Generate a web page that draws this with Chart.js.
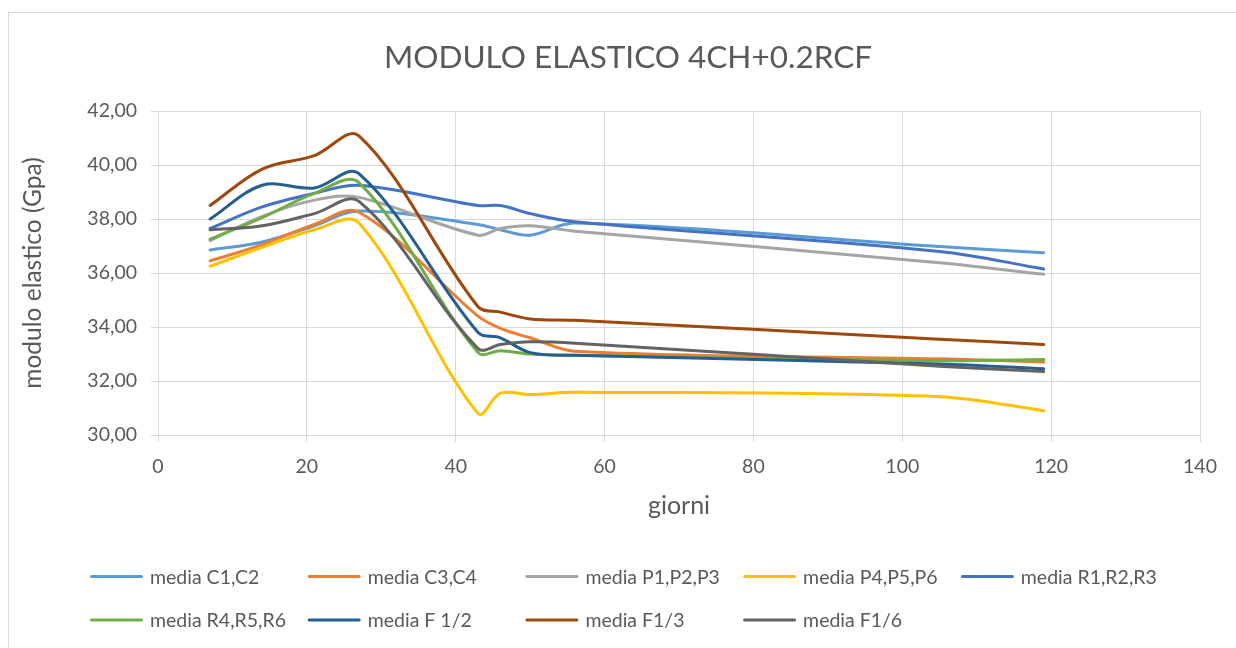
<!DOCTYPE html>
<html>
<head>
<meta charset="utf-8">
<script src="https://cdn.jsdelivr.net/npm/chart.js@4.4.1/dist/chart.umd.min.js"></script>
<style>
  html, body { margin: 0; padding: 0; background: #ffffff; }
  #wrap { position: relative; width: 1236px; height: 648px; }
</style>
</head>
<body>
<div id="wrap"><canvas id="chart" width="1236" height="648"></canvas></div>
<script>
// Curing age (days) at which the elastic modulus was measured
const giorni = [7, 14, 21, 27, 43, 46, 50, 56, 105, 119];

// Mean elastic modulus (GPa) per specimen group
const mediaC1C2   = [36.85, 37.15, 37.75, 38.30, 37.80, 37.60, 37.40, 37.85, 36.98, 36.75];
const mediaC3C4   = [36.45, 37.05, 37.80, 38.25, 34.40, 33.95, 33.60, 33.10, 32.82, 32.70];
const mediaP1P2P3 = [37.20, 38.10, 38.70, 38.80, 37.40, 37.65, 37.75, 37.55, 36.38, 35.95];
const mediaP4P5P6 = [36.25, 36.95, 37.60, 37.85, 30.80, 31.55, 31.50, 31.58, 31.42, 30.90];
const mediaR1R2R3 = [37.65, 38.45, 38.95, 39.25, 38.50, 38.50, 38.20, 37.90, 36.80, 36.15];
const mediaR4R5R6 = [37.25, 38.05, 38.95, 39.35, 33.05, 33.12, 33.00, 32.95, 32.75, 32.80];
const mediaF12    = [38.00, 39.25, 39.15, 39.68, 33.80, 33.60, 33.05, 32.95, 32.63, 32.45];
const mediaF13    = [38.50, 39.85, 40.35, 41.08, 34.75, 34.55, 34.30, 34.25, 33.55, 33.35];
const mediaF16    = [37.60, 37.75, 38.20, 38.65, 33.20, 33.35, 33.45, 33.40, 32.55, 32.35];

const serieNomi = ['media C1,C2', 'media C3,C4', 'media P1,P2,P3', 'media P4,P5,P6',
                   'media R1,R2,R3', 'media R4,R5,R6', 'media F 1/2', 'media F1/3', 'media F1/6'];
const serieValori = [mediaC1C2, mediaC3C4, mediaP1P2P3, mediaP4P5P6,
                     mediaR1R2R3, mediaR4R5R6, mediaF12, mediaF13, mediaF16];
const serieColori = ['#5B9BD5', '#ED7D31', '#A5A5A5', '#FFC000',
                     '#4472C4', '#70AD47', '#255E91', '#9E480E', '#636363'];

// Axis ticks
const xTicks = [0, 20, 40, 60, 80, 100, 120, 140];
const yTicks = [30, 32, 34, 36, 38, 40, 42];

const TITOLO = 'MODULO ELASTICO 4CH+0.2RCF';
const FONT = 'Lato, "Noto Sans", "Liberation Sans", sans-serif';
const TEXT = '#595959';
const GRID = '#D9D9D9';

const datasets = serieNomi.map((nome, s) => ({
  label: nome,
  data: giorni.map((g, i) => ({ x: g, y: serieValori[s][i] })),
  borderColor: serieColori[s],
  backgroundColor: serieColori[s],
  borderWidth: 3,
  pointRadius: 0,
  pointHoverRadius: 0,
  tension: 0.35,
  borderCapStyle: 'round',
  borderJoinStyle: 'round',
  fill: false,
  // later series are painted over earlier ones
  order: serieNomi.length - 1 - s
}));

// Outer frame of the chart and the title, centred on the frame
const framePlugin = {
  id: 'frame',
  beforeDraw(chart) {
    const ctx = chart.ctx;
    ctx.save();
    ctx.fillStyle = '#ffffff';
    ctx.fillRect(0, 0, chart.width, chart.height);
    ctx.strokeStyle = GRID;
    ctx.lineWidth = 1;
    ctx.strokeRect(8.5, 12.5, chart.width + 20, chart.height + 20);
    ctx.font = '31.5px ' + FONT;
    ctx.fillStyle = TEXT;
    ctx.textAlign = 'center';
    ctx.textBaseline = 'middle';
    ctx.fillText(TITOLO, 628, 57.5);
    ctx.restore();
  }
};

// Legend laid out on a fixed grid of columns, two rows
const gridLegendPlugin = {
  id: 'gridLegend',
  afterDraw(chart) {
    const ctx = chart.ctx;
    const cols = 5, colW = 217.7, startX = 90;
    const rowY = [576.5, 620];
    const lineLen = 53;
    ctx.save();
    ctx.font = '19.5px ' + FONT;
    ctx.textBaseline = 'middle';
    ctx.textAlign = 'left';
    chart.data.datasets.forEach((ds, i) => {
      const x = startX + (i % cols) * colW;
      const y = rowY[Math.floor(i / cols)];
      ctx.strokeStyle = ds.borderColor;
      ctx.lineWidth = 3;
      ctx.lineCap = 'round';
      ctx.beginPath();
      ctx.moveTo(x + 1.5, y);
      ctx.lineTo(x + lineLen - 1.5, y);
      ctx.stroke();
      ctx.fillStyle = TEXT;
      ctx.fillText(ds.label, x + lineLen + 7, y + 1);
    });
    ctx.restore();
  }
};

new Chart(document.getElementById('chart'), {
  type: 'line',
  data: { datasets },
  plugins: [framePlugin, gridLegendPlugin],
  options: {
    responsive: false,
    animation: false,
    events: [],
    layout: { padding: { left: 18, right: 36, top: 111, bottom: 0 } },
    plugins: {
      legend: { display: false },
      tooltip: { enabled: false },
      title: { display: false }
    },
    scales: {
      x: {
        type: 'linear',
        min: 0,
        max: 140,
        afterBuildTicks(scale) { scale.ticks = xTicks.map(v => ({ value: v })); },
        afterFit(scale) { scale.height = 213; },
        grid: { color: GRID, lineWidth: 1, tickLength: 7, drawTicks: true },
        border: { color: GRID, width: 1 },
        ticks: {
          color: TEXT,
          font: { family: FONT, size: 19.5 },
          padding: 13,
          maxRotation: 0,
          autoSkip: false
        },
        title: {
          display: true,
          text: 'giorni',
          color: TEXT,
          font: { family: FONT, size: 25 },
          padding: { top: 0, bottom: 127 }
        }
      },
      y: {
        min: 30,
        max: 42,
        afterBuildTicks(scale) { scale.ticks = yTicks.map(v => ({ value: v })); },
        afterFit(scale) { scale.width = 140; },
        grid: { color: GRID, lineWidth: 1, tickLength: 7, drawTicks: true },
        border: { color: GRID, width: 1 },
        ticks: {
          color: TEXT,
          font: { family: FONT, size: 19.5 },
          padding: 14,
          callback: v => v.toFixed(2).replace('.', ',')
        },
        title: {
          display: true,
          text: 'modulo elastico (Gpa)',
          color: TEXT,
          font: { family: FONT, size: 24.5 },
          padding: { top: 0, bottom: 0 }
        }
      }
    }
  }
});
</script>
</body>
</html>
